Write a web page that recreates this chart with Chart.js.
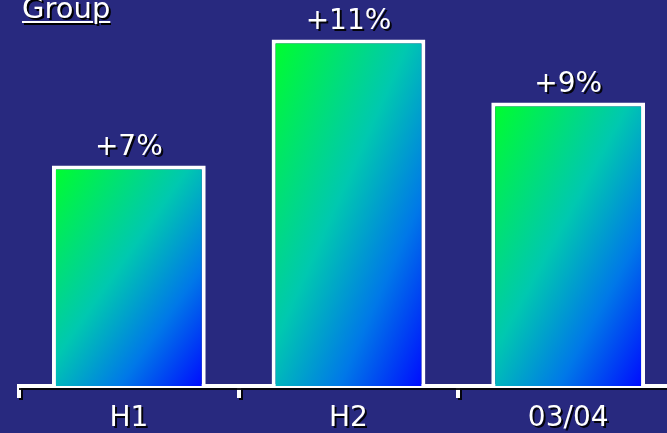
<!DOCTYPE html>
<html>
<head>
    <title>Group growth</title>
    <script src="https://cdn.jsdelivr.net/npm/chart.js"></script>
    <style>
        html, body { margin: 0; padding: 0; overflow: hidden; }
        body {
            width: 667px; height: 433px;
            background: #28297f;
            position: relative;
        }
        #wrap { position: absolute; left: 0; top: 0; width: 680px; height: 433px; }
        #title {
            position: absolute; left: 22px; top: -9px;
            font: 29px "DejaVu Sans", sans-serif;
            color: #fff; text-decoration: underline;
            text-decoration-thickness: 2px; text-underline-offset: 3px;
            text-shadow: 2px 2px 0 #000;
        }
    </style>
</head>
<body>
    <div id="wrap"><canvas id="growthChart"></canvas></div>
    <div id="title">Group</div>

    <script>
        const categories = ['H1', 'H2', '03/04'];
        const growth = [7, 11, 9];
        const growthLabels = ['+7%', '+11%', '+9%'];

        // diagonal fill: green top-left corner to blue bottom-right corner,
        // mid colour running along the other diagonal
        function barGradient(context) {
            const chart = context.chart;
            if (!chart.chartArea) return '#00c0a0';
            const i = context.dataIndex;
            const xs = chart.scales.x, ys = chart.scales.y;
            const cx = xs.getPixelForValue(i);
            const w = 154;
            const top = ys.getPixelForValue(growth[i]);
            const bottom = ys.getPixelForValue(0);
            const h = bottom - top;
            const cy = (top + bottom) / 2;
            const k = (w * h) / (w * w + h * h);
            const dx = k * h, dy = k * w;
            const g = chart.ctx.createLinearGradient(cx - dx, cy - dy, cx + dx, cy + dy);
            g.addColorStop(0, '#00ff2a');
            g.addColorStop(0.45, '#00c8b0');
            g.addColorStop(0.72, '#0078e8');
            g.addColorStop(1, '#0008ff');
            return g;
        }

        const labelPlugin = {
            id: 'labels',
            beforeDraw(chart) {
                const ctx = chart.ctx;
                ctx.save();
                ctx.shadowColor = 'rgba(0,0,0,0.9)';
                ctx.shadowOffsetX = 2;
                ctx.shadowOffsetY = 2;
            },
            beforeDatasetsDraw(chart) {
                chart.ctx.restore();
            },
            afterDatasetsDraw(chart) {
                const ctx = chart.ctx;
                const meta = chart.getDatasetMeta(0);
                ctx.save();
                ctx.font = '28px "DejaVu Sans", sans-serif';
                ctx.fillStyle = '#fff';
                ctx.textAlign = 'center';
                ctx.textBaseline = 'alphabetic';
                ctx.shadowColor = 'rgba(0,0,0,0.9)';
                ctx.shadowOffsetX = 2;
                ctx.shadowOffsetY = 2;
                meta.data.forEach((bar, i) => {
                    ctx.fillText(growthLabels[i], bar.x, bar.y - 10);
                });
                ctx.restore();
            }
        };

        const ctx = document.getElementById('growthChart').getContext('2d');
        const growthChart = new Chart(ctx, {
            type: 'bar',
            data: {
                labels: categories,
                datasets: [{
                    data: growth,
                    backgroundColor: barGradient,
                    borderColor: '#ffffff',
                    borderWidth: 4,
                    borderSkipped: 'bottom',
                    categoryPercentage: 1,
                    barPercentage: 0.70
                }]
            },
            options: {
                responsive: true,
                maintainAspectRatio: false,
                animation: false,
                layout: { padding: { left: 19, right: 2, top: 0, bottom: 0 } },
                plugins: {
                    legend: { display: false },
                    tooltip: { enabled: false }
                },
                scales: {
                    x: {
                        afterFit(scale) { scale.height = 47; },
                        grid: {
                            offset: true,
                            drawOnChartArea: false,
                            drawTicks: true,
                            tickLength: 12,
                            color: '#ffffff',
                            lineWidth: 4
                        },
                        border: { display: true, color: '#ffffff', width: 4 },
                        ticks: {
                            color: '#ffffff',
                            font: { family: '"DejaVu Sans", sans-serif', size: 28 },
                            padding: 4,
                            maxRotation: 0
                        }
                    },
                    y: {
                        display: false,
                        min: 0,
                        max: 12.25
                    }
                }
            },
            plugins: [labelPlugin]
        });
    </script>
</body>
</html>
